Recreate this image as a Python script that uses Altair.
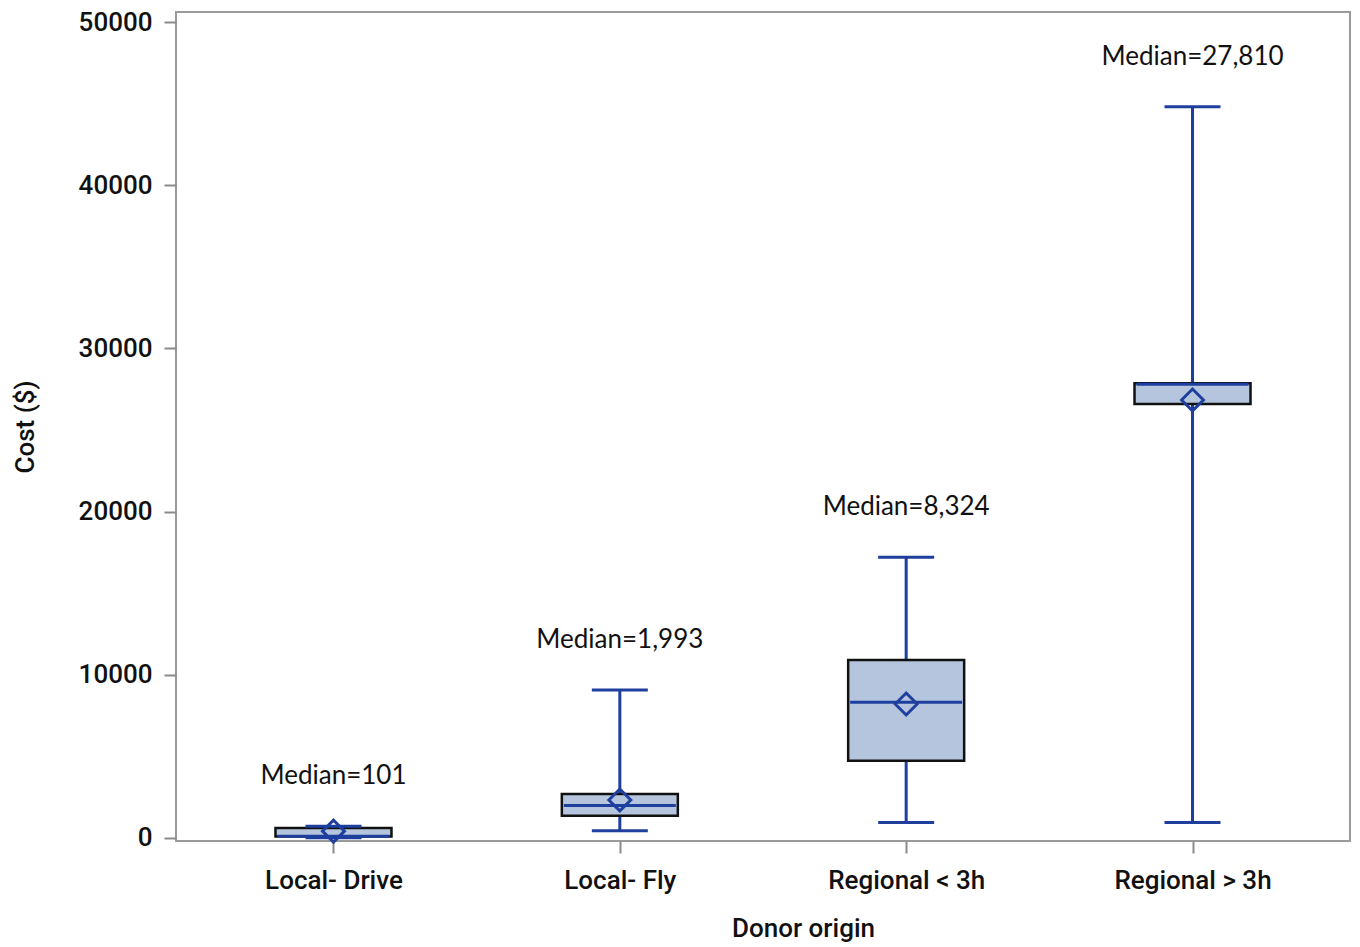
import altair as alt
import pandas as pd

# Box-plot summary of transport cost by donor origin
origins = ["Local- Drive", "Local- Fly", "Regional < 3h", "Regional > 3h"]
whisker_low = [20, 450, 950, 950]
q1 = [90, 1370, 4740, 26600]
median = [101, 1993, 8324, 27810]
q3 = [620, 2700, 10900, 27870]
whisker_high = [720, 9070, 17200, 44800]
mean = [420, 2330, 8210, 26840]

df = pd.DataFrame({
    "origin": origins,
    "low": whisker_low,
    "q1": q1,
    "median": median,
    "q3": q3,
    "high": whisker_high,
    "mean": mean,
})
df["label"] = [f"Median={m:,}" for m in median]

BLUE = "#1f3f9f"
FILL = "#b5c5de"
AXIS_GREY = "#9a9a9a"

x = alt.X(
    "origin:N",
    sort=origins,
    scale=alt.Scale(type="point", padding=0.55),
    axis=alt.Axis(title="Donor origin", labelAngle=0, titleX=627),
)
y_scale = alt.Scale(domain=[-184, 50613], nice=False, zero=False)
y_axis = alt.Axis(
    title="Cost ($)",
    values=[0, 10000, 20000, 30000, 40000, 50000],
    format="d",
)

base = alt.Chart(df)

whiskers = base.mark_rule(color=BLUE, strokeWidth=3).encode(
    x=x,
    y=alt.Y("low:Q", scale=y_scale, axis=y_axis),
    y2="high:Q",
)

caps_low = base.mark_tick(color=BLUE, size=56, thickness=3, opacity=1).encode(
    x=x, y=alt.Y("low:Q", scale=y_scale)
)
caps_high = base.mark_tick(color=BLUE, size=56, thickness=3, opacity=1).encode(
    x=x, y=alt.Y("high:Q", scale=y_scale)
)

boxes = base.mark_bar(
    size=116, fill=FILL, stroke="#111111", strokeWidth=2.5, opacity=1
).encode(
    x=x,
    y=alt.Y("q1:Q", scale=y_scale),
    y2="q3:Q",
)

medians = base.mark_tick(color=BLUE, size=112, thickness=3, opacity=1).encode(
    x=x, y=alt.Y("median:Q", scale=y_scale)
)

means = base.mark_point(
    shape="diamond", filled=False, size=480, strokeWidth=3, color=BLUE, opacity=1
).encode(
    x=x, y=alt.Y("mean:Q", scale=y_scale)
)

labels = base.mark_text(
    dy=-50, font="Lato", fontSize=26, color="#111111", baseline="middle"
).encode(
    x=x,
    y=alt.Y("high:Q", scale=y_scale),
    text="label:N",
)

chart = (
    alt.layer(whiskers, boxes, caps_low, caps_high, medians, means, labels)
    .properties(
        width=1174,
        height=829,
        autosize=alt.AutoSizeParams(type="none"),
        padding={"left": 176, "top": 12, "right": 10, "bottom": 106},
        background="white",
    )
    .configure_view(stroke=AXIS_GREY, strokeWidth=2)
    .configure_axis(
        grid=False,
        domain=False,
        tickColor="#8a8a8a",
        tickWidth=2,
        tickSize=12,
        labelFont="Roboto",
        labelFontWeight=500,
        labelFontSize=26,
        labelColor="#111111",
        titleFont="Roboto",
        titleFontWeight=500,
        titleFontSize=26,
        titleColor="#111111",
    )
    .configure_axisY(labelPadding=12, titlePadding=40)
    .configure_axisX(labelPadding=14, titlePadding=22)
)

chart.save("out.html", embed_options={"renderer": "svg", "actions": False})
